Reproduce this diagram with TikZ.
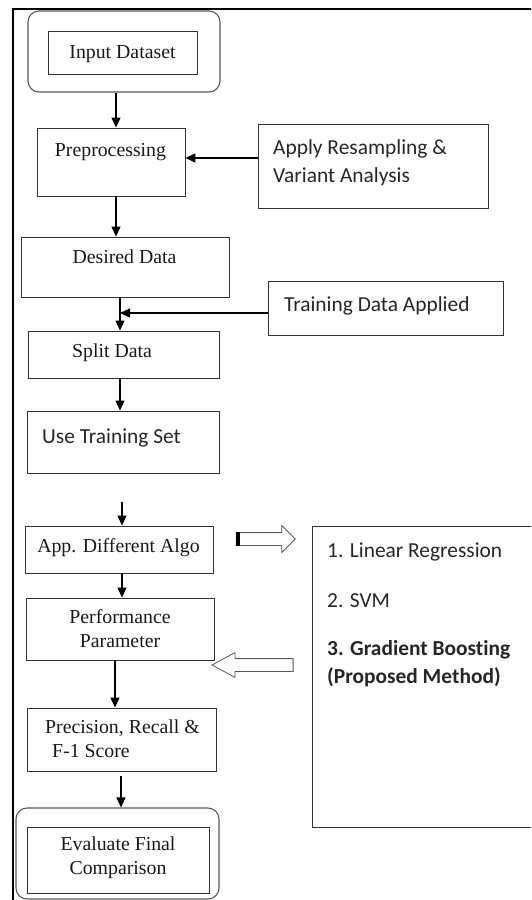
\documentclass[tikz,border=0pt]{standalone}
\usepackage{fontspec}
\setmainfont{Liberation Serif}
\newfontfamily\calibri[Ligatures=NoCommon]{Carlito}
\usetikzlibrary{arrows.meta,shapes.arrows}
\newcommand{\stacktext}[2]{\begin{tabular}[t]{@{}#1@{}}#2\end{tabular}}

\begin{document}
\begin{tikzpicture}[x=1pt,y=-1pt,
  box/.style={draw=black!80, line width=0.9pt, inner sep=0pt},
  roundbox/.style={draw=black!65, line width=1.1pt, rounded corners=11pt, inner sep=0pt},
  serif/.style={inner sep=0pt, anchor=base, text=black!90,
    font=\fontsize{19.8pt}{24pt}\selectfont},
  sans/.style={inner sep=0pt, anchor=base west, text=black!85,
    font=\calibri\fontsize{21.4pt}{28pt}\selectfont},
  arr/.style={draw=black, line width=1.2pt, -{Triangle[length=10pt,width=9pt]}},
  blockarrow/.style={single arrow, draw=black!65, line width=0.8pt, fill=white,
    inner xsep=0pt, inner ysep=6pt, minimum width=0pt}]

\useasboundingbox (0,0) rectangle (531,900);
\clip (0,0) rectangle (531,900);

% page frame (left and top edge)
\draw[line width=2pt] (560,9) -- (13,9) -- (13,930);

% start and end blocks
\node[roundbox, minimum width=192pt, minimum height=81pt] (inpo) at (124,51.5) {};
\node[box, minimum width=149pt, minimum height=43pt] (inp) at (122.5,52.5) {};
\node[serif] (inp-t) at (122.5,58) {Input Dataset};

\node[roundbox, minimum width=203pt, minimum height=91pt] (evalo) at (117.5,853.5) {};
\node[box, minimum width=182pt, minimum height=66pt] (eval) at (118,860) {};
\node[serif] (eval-t) at (118,850) {\stacktext{c}{Evaluate Final\\Comparison}};

% main flow
\node[box, minimum width=148pt, minimum height=68pt] (pre) at (111,162) {};
\node[serif] (pre-t) at (110.5,156) {Preprocessing};

\node[box, minimum width=208pt, minimum height=60pt] (des) at (125,267) {};
\node[serif] (des-t) at (124.5,263) {Desired Data};

\node[box, minimum width=191pt, minimum height=47pt] (split) at (123.5,354.5) {};
\node[serif] (split-t) at (112,357) {Split Data};

\node[box, minimum width=192pt, minimum height=62pt] (use) at (123,442) {};
\node[sans] (use-t) at (42,443) {Use Training Set};

\node[box, minimum width=188pt, minimum height=47pt] (app) at (119,549.5) {};
\node[serif] (app-t) at (118.5,552) {App. Different Algo};

\node[box, minimum width=188pt, minimum height=62pt] (perf) at (120,629) {};
\node[serif] (perf-t) at (120,623) {\stacktext{c}{Performance\\Parameter}};

\node[box, minimum width=189pt, minimum height=63pt] (prec) at (121.5,739.5) {};
\node[serif, anchor=base west] (prec-t) at (45,733)
  {\stacktext{l}{Precision, Recall \&\\\hspace*{7pt}F-1 Score}};

% side inputs
\node[box, minimum width=230pt, minimum height=84pt] (res) at (373,166) {};
\node[sans] (res-t) at (273,154) {\stacktext{l}{Apply Resampling \&\\Variant Analysis}};

\node[box, minimum width=235pt, minimum height=54pt] (trn) at (385.5,308) {};
\node[sans] (trn-t) at (284,311) {Training Data Applied};

% algorithm list
\node[box, minimum width=240pt, minimum height=301pt] (algos) at (432,676.5) {};
\node[sans] (alg1) at (327,557) {1. Linear Regression};
\node[sans] (alg2) at (327,607) {2. SVM};
\node[sans, font=\calibri\bfseries\fontsize{21.4pt}{28pt}\selectfont] (alg3) at (327,655)
  {\stacktext{l}{3. Gradient Boosting\\(Proposed Method)}};

% block arrows between the flow and the algorithm list
\node[blockarrow, minimum height=59pt, single arrow head extend=7pt] (rarr) at (262.5,539) {};
\fill[black] (rarr.before tail) rectangle ([xshift=4pt]rarr.after tail);
\node[blockarrow, minimum height=81pt, single arrow head extend=6pt,
  single arrow tip angle=57, shape border rotate=180] (larr) at (258.5,665) {};

% connector columns
\coordinate (c1) at (116,0);
\coordinate (c3) at (120,0);
\coordinate (c5) at (120,0);
\coordinate (c6) at (122,502);
\coordinate (c7) at (122,0);
\coordinate (c8) at (115,0);
\coordinate (c9) at (121,776);
\coordinate (hres) at (0,158);
\coordinate (jn) at (120,313);

\draw[arr] (inpo.south -| c1) -- (pre.north -| c1);
\draw[arr] (pre.south -| c1) -- (des.north -| c1);
\draw[arr] (des.south -| c3) -- (split.north -| c3);
\draw[arr] (trn.west |- jn) -- (jn);
\draw[arr] (split.south -| c5) -- (use.north -| c5);
\draw[arr] (c6) -- (app.north -| c6);
\draw[arr] (app.south -| c7) -- (perf.north -| c7);
\draw[arr] (perf.south -| c8) -- (prec.north -| c8);
\draw[arr] (c9) -- (evalo.north -| c9);
\draw[arr] (res.west |- hres) -- (pre.east |- hres);

\end{tikzpicture}
\end{document}
